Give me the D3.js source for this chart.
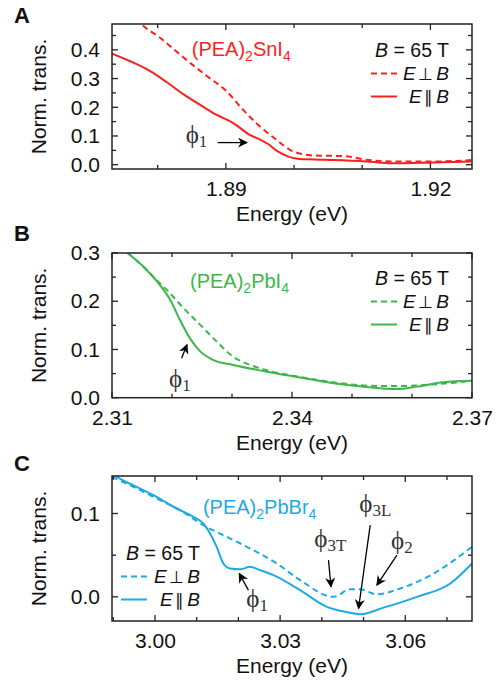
<!DOCTYPE html>
<html>
<head>
<meta charset="utf-8">
<script src="https://cdn.jsdelivr.net/npm/d3@7"></script>
<style>
  body { margin: 0; background: #fff; }
  text { font-family: "Liberation Sans", Arial, sans-serif; }
  .phi { font-family: "Liberation Serif", "DejaVu Serif", serif; }
</style>
</head>
<body>
<div id="chart"></div>
<script>
var svgWidth = 498;
var svgHeight = 681;

// ---- data ----
// panel A: (PEA)2SnI4
var snEnergyPar = [1.8733, 1.8764, 1.8789, 1.8813, 1.8838, 1.8862, 1.8886, 1.8911, 1.8935, 1.8950, 1.8962, 1.8975, 1.8990, 1.9005, 1.9030, 1.9057, 1.9106, 1.9145, 1.9204, 1.9260];
var snTransPar = [0.387, 0.356, 0.326, 0.288, 0.245, 0.209, 0.174, 0.145, 0.104, 0.088, 0.072, 0.048, 0.030, 0.021, 0.018, 0.016, 0.011, 0.005, 0.008, 0.011];
var snEnergyPerp = [1.8768, 1.8774, 1.8803, 1.8838, 1.8872, 1.8901, 1.8925, 1.8950, 1.8974, 1.8994, 1.9010, 1.9030, 1.9057, 1.9082, 1.9106, 1.9155, 1.9204, 1.9260];
var snTransPerp = [0.51, 0.494, 0.443, 0.373, 0.309, 0.256, 0.192, 0.133, 0.087, 0.052, 0.038, 0.032, 0.031, 0.028, 0.017, 0.011, 0.011, 0.016];

// panel B: (PEA)2PbI4
var pbiEnergyPar = [2.3126, 2.3152, 2.3175, 2.3197, 2.3213, 2.3230, 2.3247, 2.3269, 2.3302, 2.3358, 2.3413, 2.3469, 2.3525, 2.3574, 2.3608, 2.3652, 2.3700];
var pbiTransPar = [0.300, 0.272, 0.241, 0.203, 0.162, 0.123, 0.096, 0.078, 0.068, 0.054, 0.042, 0.030, 0.022, 0.018, 0.023, 0.032, 0.035];
var pbiEnergyPerp = [2.3126, 2.3152, 2.3175, 2.3191, 2.3219, 2.3247, 2.3274, 2.3302, 2.3330, 2.3358, 2.3413, 2.3469, 2.3525, 2.3574, 2.3630, 2.3700];
var pbiTransPerp = [0.300, 0.272, 0.243, 0.224, 0.186, 0.151, 0.117, 0.085, 0.068, 0.057, 0.043, 0.032, 0.025, 0.024, 0.027, 0.035];

// panel C: (PEA)2PbBr4
var pbbrEnergyPar = [2.9895, 2.9904, 2.9956, 3.0004, 3.0052, 3.0092, 3.0116, 3.0132, 3.0148, 3.0164, 3.0180, 3.0204, 3.0228, 3.0252, 3.0284, 3.0348, 3.0412, 3.0468, 3.0492, 3.0548, 3.0628, 3.0708, 3.0760];
var pbbrTransPar = [0.150, 0.146, 0.132, 0.120, 0.106, 0.096, 0.088, 0.076, 0.060, 0.040, 0.034, 0.033, 0.036, 0.032, 0.026, 0.008, -0.012, -0.019, -0.021, -0.013, 0.000, 0.016, 0.040];
var pbbrEnergyPerp = [2.9897, 2.9956, 3.0012, 3.0060, 3.0116, 3.0172, 3.0236, 3.0292, 3.0348, 3.0428, 3.0468, 3.0492, 3.0532, 3.0588, 3.0668, 3.0760];
var pbbrTransPerp = [0.144, 0.130, 0.116, 0.104, 0.086, 0.072, 0.056, 0.040, 0.020, 0.000, 0.009, 0.009, 0.003, 0.010, 0.028, 0.060];

// axes
var snXDomain = [1.8733, 1.9261], snYDomain = [-0.015, 0.49];
var snXTicks = [1.88, 1.89, 1.90, 1.91, 1.92], snXLabels = [1.89, 1.92];
var snYTicks = [0, 0.05, 0.1, 0.15, 0.2, 0.25, 0.3, 0.35, 0.4, 0.45], snYLabels = [0, 0.1, 0.2, 0.3, 0.4];

var pbiXDomain = [2.31, 2.37], pbiYDomain = [0, 0.3];
var pbiXTicks = [2.31, 2.32, 2.33, 2.34, 2.35, 2.36, 2.37], pbiXLabels = [2.31, 2.34, 2.37];
var pbiYTicks = [0, 0.05, 0.1, 0.15, 0.2, 0.25, 0.3], pbiYLabels = [0, 0.1, 0.2, 0.3];

var pbbrXDomain = [2.9897, 3.076], pbbrYDomain = [-0.029, 0.145];
var pbbrXTicks = [2.99, 3.00, 3.01, 3.02, 3.03, 3.04, 3.05, 3.06, 3.07], pbbrXLabels = [3.00, 3.03, 3.06];
var pbbrYTicks = [0, 0.05, 0.1], pbbrYLabels = [0, 0.1];

// annotations: label, sub, text x/y, arrow from x/y, arrow to x/y (data units)
var snNotes = [["ϕ", "1", 1.8841, 0.076, 1.8888, 0.077, 1.8931, 0.077]];
var pbiNotes = [["ϕ", "1", 2.3195, 0.023, 2.3216, 0.082, 2.3225, 0.110]];
var pbbrNotes = [
  ["ϕ", "1", 3.0219, -0.012, 3.0224, 0.008, 3.0202, 0.028],
  ["ϕ", "3T", 3.0382, 0.060, 3.0416, 0.044, 3.0422, 0.012],
  ["ϕ", "3L", 3.0490, 0.102, 3.0516, 0.086, 3.0488, -0.014],
  ["ϕ", "2", 3.0566, 0.058, 3.0580, 0.050, 3.0532, 0.014]
];

var svg = d3.select("#chart")
  .append("svg")
  .attr("width", svgWidth)
  .attr("height", svgHeight);

svg.append("defs").append("marker")
  .attr("id", "arrow")
  .attr("viewBox", "0 0 10 10")
  .attr("refX", 9)
  .attr("refY", 5)
  .attr("markerWidth", 10)
  .attr("markerHeight", 10)
  .attr("markerUnits", "userSpaceOnUse")
  .attr("orient", "auto")
  .append("path")
  .attr("d", "M0,0 L10,5 L0,10 L3,5 Z")
  .attr("fill", "#000");

var plotLeft = 112, plotRight = 472;
var fontSize = 21;

function drawPanel(p) {
  var x = d3.scaleLinear().domain(p.xDomain).range([plotLeft, plotRight]);
  var y = d3.scaleLinear().domain(p.yDomain).range([p.bottom, p.top]);
  var g = svg.append("g");

  // clip for curves
  var clipId = "clip" + p.letter;
  svg.select("defs").append("clipPath").attr("id", clipId)
    .append("rect").attr("x", plotLeft).attr("y", p.top)
    .attr("width", plotRight - plotLeft).attr("height", p.bottom - p.top);

  var line = d3.line().x(d => x(d[0])).y(d => y(d[1])).curve(d3.curveMonotoneX);

  g.append("path")
    .datum(d3.zip(p.ePerp, p.tPerp))
    .attr("clip-path", "url(#" + clipId + ")")
    .attr("d", line)
    .attr("fill", "none")
    .attr("stroke", p.color)
    .attr("stroke-width", 2)
    .attr("stroke-dasharray", "6,4");

  g.append("path")
    .datum(d3.zip(p.ePar, p.tPar))
    .attr("clip-path", "url(#" + clipId + ")")
    .attr("d", line)
    .attr("fill", "none")
    .attr("stroke", p.color)
    .attr("stroke-width", 2);

  // axes (ticks pointing inward on all sides)
  var isMajorX = d => p.xLabels.some(v => Math.abs(v - d) < 1e-6);
  var isMajorY = d => p.yLabels.some(v => Math.abs(v - d) < 1e-6);

  var bottom = g.append("g")
    .attr("transform", `translate(0, ${p.bottom})`)
    .call(d3.axisBottom(x).tickValues(p.xTicks).tickSize(0).tickPadding(12)
      .tickFormat(d => isMajorX(d) ? d3.format(".2f")(d) : ""));
  var left = g.append("g")
    .attr("transform", `translate(${plotLeft}, 0)`)
    .call(d3.axisLeft(y).tickValues(p.yTicks).tickSize(0).tickPadding(12)
      .tickFormat(d => isMajorY(d) ? d3.format(".1f")(d) : ""));
  [bottom, left].forEach(function(ax) {
    ax.select(".domain").remove();
    ax.selectAll("text").attr("font-size", fontSize).attr("fill", "#111")
      .style("font-family", "'Liberation Sans', Arial, sans-serif");
  });

  var tickG = g.append("g").attr("stroke", "#222").attr("stroke-width", 1.3);
  p.xTicks.forEach(function(d) {
    var len = isMajorX(d) ? 6 : 4;
    tickG.append("line").attr("x1", x(d)).attr("x2", x(d)).attr("y1", p.bottom).attr("y2", p.bottom - len);
    tickG.append("line").attr("x1", x(d)).attr("x2", x(d)).attr("y1", p.top).attr("y2", p.top + len);
  });
  p.yTicks.forEach(function(d) {
    var len = isMajorY(d) ? 6 : 4;
    tickG.append("line").attr("y1", y(d)).attr("y2", y(d)).attr("x1", plotLeft).attr("x2", plotLeft + len);
    tickG.append("line").attr("y1", y(d)).attr("y2", y(d)).attr("x1", plotRight).attr("x2", plotRight - len);
  });

  g.append("rect")
    .attr("x", plotLeft).attr("y", p.top)
    .attr("width", plotRight - plotLeft).attr("height", p.bottom - p.top)
    .attr("fill", "none").attr("stroke", "#222").attr("stroke-width", 1.5);

  // axis titles
  g.append("text")
    .attr("x", (plotLeft + plotRight) / 2)
    .attr("y", p.bottom + 52)
    .attr("text-anchor", "middle")
    .attr("font-size", fontSize)
    .attr("fill", "#111")
    .text("Energy (eV)");

  g.append("text")
    .attr("transform", `translate(46, ${(p.top + p.bottom) / 2}) rotate(-90)`)
    .attr("text-anchor", "middle")
    .attr("font-size", fontSize)
    .attr("fill", "#111")
    .text("Norm. trans.");

  // panel letter
  g.append("text")
    .attr("x", 14).attr("y", p.letterY)
    .attr("font-size", 22).attr("font-weight", "bold")
    .attr("fill", "#111")
    .text(p.letter);

  // compound name
  var name = g.append("text")
    .attr("x", x(p.nameX)).attr("y", y(p.nameY))
    .attr("font-size", 20).attr("fill", p.color);
  name.append("tspan").text("(PEA)");
  name.append("tspan").attr("font-size", 14).attr("dy", 5).text("2");
  name.append("tspan").attr("dy", -5).text(p.nameEl);
  name.append("tspan").attr("font-size", 14).attr("dy", 5).text("4");

  // legend
  var lg = g.append("g");
  var L = p.legend;
  var b = lg.append("text").attr("x", L.textX).attr("y", L.y0)
    .attr("text-anchor", L.anchor).attr("font-size", 19.5).attr("fill", "#111");
  b.append("tspan").attr("font-style", "italic").text("B");
  b.append("tspan").text(" = 65 T");
  [["6,4", "⊥"], [null, "∥"]].forEach(function(it, i) {
    var yy = L.y0 + 23 * (i + 1);
    lg.append("line")
      .attr("x1", L.lineX).attr("x2", L.lineX + 26)
      .attr("y1", yy - 6.5).attr("y2", yy - 6.5)
      .attr("stroke", p.color).attr("stroke-width", 2)
      .attr("stroke-dasharray", it[0]);
    var t = lg.append("text").attr("x", L.textX).attr("y", yy)
      .attr("text-anchor", L.anchor).attr("font-size", 19).attr("fill", "#111");
    t.append("tspan").attr("font-style", "italic").text("E");
    t.append("tspan").attr("font-size", 17).text("\u2006" + it[1] + "\u2006");
    t.append("tspan").attr("font-style", "italic").text("B");
  });

  // phi annotations
  p.notes.forEach(function(n) {
    var t = g.append("text").attr("class", "phi")
      .attr("x", x(n[2])).attr("y", y(n[3]))
      .attr("font-size", 25).attr("fill", "#333");
    t.append("tspan").text(n[0]);
    t.append("tspan").attr("font-size", 17).attr("dy", 4).text(n[1]);
    g.append("line")
      .attr("x1", x(n[4])).attr("y1", y(n[5]))
      .attr("x2", x(n[6])).attr("y2", y(n[7]))
      .attr("stroke", "#000").attr("stroke-width", 1.3)
      .attr("marker-end", "url(#arrow)");
  });
}

drawPanel({
  letter: "A", letterY: 23, top: 24, bottom: 169,
  xDomain: snXDomain, yDomain: snYDomain,
  xTicks: snXTicks, xLabels: snXLabels, yTicks: snYTicks, yLabels: snYLabels,
  ePar: snEnergyPar, tPar: snTransPar, ePerp: snEnergyPerp, tPerp: snTransPerp,
  color: "#ff1e1e", nameX: 1.8850, nameY: 0.378, nameEl: "SnI",
  legend: { anchor: "end", textX: 449, lineX: 371, y0: 57 },
  notes: snNotes
});

drawPanel({
  letter: "B", letterY: 241, top: 253, bottom: 397.7,
  xDomain: pbiXDomain, yDomain: pbiYDomain,
  xTicks: pbiXTicks, xLabels: pbiXLabels, yTicks: pbiYTicks, yLabels: pbiYLabels,
  ePar: pbiEnergyPar, tPar: pbiTransPar, ePerp: pbiEnergyPerp, tPerp: pbiTransPerp,
  color: "#3db64b", nameX: 2.3230, nameY: 0.228, nameEl: "PbI",
  legend: { anchor: "end", textX: 449, lineX: 371, y0: 285 },
  notes: pbiNotes
});

drawPanel({
  letter: "C", letterY: 471, top: 476, bottom: 621,
  xDomain: pbbrXDomain, yDomain: pbbrYDomain,
  xTicks: pbbrXTicks, xLabels: pbbrXLabels, yTicks: pbbrYTicks, yLabels: pbbrYLabels,
  ePar: pbbrEnergyPar, tPar: pbbrTransPar, ePerp: pbbrEnergyPerp, tPerp: pbbrTransPerp,
  color: "#1eaae4", nameX: 3.0115, nameY: 0.100, nameEl: "PbBr",
  legend: { anchor: "end", textX: 200, lineX: 121, y0: 560 },
  notes: pbbrNotes
});
</script>
</body>
</html>
